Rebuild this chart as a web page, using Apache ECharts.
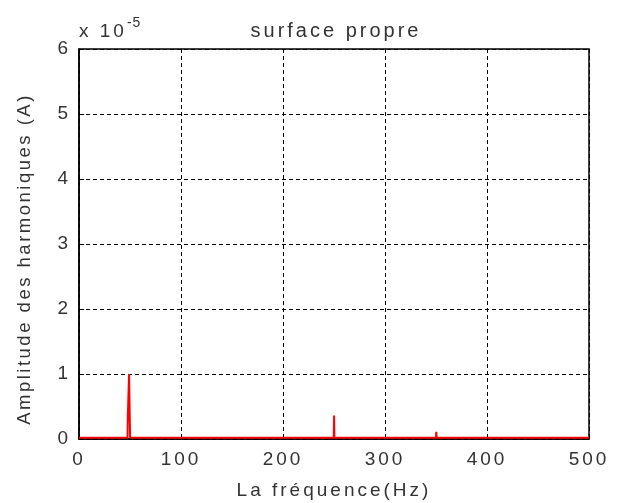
<!DOCTYPE html>
<html><head><meta charset="utf-8">
<script src="https://cdn.jsdelivr.net/npm/echarts@6/dist/echarts.min.js"></script>
<style>html,body{margin:0;padding:0;background:#fff}#c{width:622px;height:503px}</style>
</head><body><div id="c"></div>
<script>
// frequency (Hz) and amplitude (×1e-5 A)
var freq = [0, 47.6, 47.9, 48.8, 49.1, 49.8, 50.1, 249.8, 250.1, 250.4, 350.0, 350.3, 350.6, 500];
var amp  = [0.02, 0.02, 0.36, 0.36, 1.0, 1.0, 0.02, 0.02, 0.36, 0.02, 0.02, 0.11, 0.02, 0.02];
var xTicks = [0, 100, 200, 300, 400, 500];
var yTicks = [0, 1, 2, 3, 4, 5, 6];
var titleText = 'surface propre';
var xName = 'La fréquence(Hz)';
var yName = 'Amplitude des harmoniques (A)';
var multBase = 'x 10';
var multExp = '-5';

// emulate the loose letter spacing of the reference rendering
(function(){
  var proto = CanvasRenderingContext2D.prototype;
  function sp(font){
    var m = /([\d.]+)px/.exec(font || '');
    var s = m ? m[1] : '';
    if (s === '18.5') return '2.5px';
    if (s === '14') return '1px';
    return '3px';
  }
  ['fillText','strokeText','measureText'].forEach(function(n){
    var o = proto[n];
    proto[n] = function(){ try { this.letterSpacing = sp(this.font); } catch(e){} return o.apply(this, arguments); };
  });
})();

var data = freq.map(function(f, i){ return [f, amp[i]]; });
var chart = echarts.init(document.getElementById('c'), null, {renderer:'canvas'});
var font = 'Liberation Sans, Arial, sans-serif';
var txt = '#333';
chart.setOption({
  animation: false,
  backgroundColor: '#fff',
  title: { text: titleText, left: 331, top: 15, textAlign: 'center',
    textStyle: { fontFamily: font, fontSize: 20, fontWeight: 'normal', color: txt } },
  grid: { left: 79, right: 33, top: 49, bottom: 64, show: true, borderColor: '#000', borderWidth: 1.5,
    containLabel: false, outerBoundsMode: 'none' },
  graphic: [{
    type: 'text', left: 79, top: 16,
    style: { rich: { a: { fontSize: 19, fontFamily: font, fill: txt, padding:[9,0,0,0] }, b: { fontSize: 14, fontFamily: font, fill: txt, padding:[0,0,8,0] } },
      text: '{a|' + multBase + '}{b|' + multExp + '}' }
  }],
  xAxis: { type: 'value', min: 0, max: 500, interval: 100,
    name: xName, nameLocation: 'middle', nameGap: 41,
    nameTextStyle: { fontFamily: font, fontSize: 19, color: txt },
    axisLine: { show: true, lineStyle: { color: '#000', width: 1.5 } },
    axisTick: { show: true, inside: true, length: 5, lineStyle: { color: '#000' } },
    axisLabel: { fontFamily: font, fontSize: 19, color: txt, margin: 10 },
    splitLine: { show: true, lineStyle: { color: '#000', type: [4, 3], width: 1 } } },
  yAxis: { type: 'value', min: 0, max: 6, interval: 1,
    name: yName, nameLocation: 'middle', nameGap: 43,
    nameTextStyle: { fontFamily: font, fontSize: 18.5, color: txt, padding: [0, 30, 0, 0] },
    axisLine: { show: true, lineStyle: { color: '#000', width: 1.5 } },
    axisTick: { show: true, inside: true, length: 5, lineStyle: { color: '#000' } },
    axisLabel: { fontFamily: font, fontSize: 19, color: txt, margin: 8 },
    splitLine: { show: true, lineStyle: { color: '#000', type: [4, 3], width: 1 } } },
  series: [{ type: 'line', data: data, symbol: 'none', lineStyle: { color: '#ff0000', width: 2 }, z: 5 }]
});
</script></body></html>
